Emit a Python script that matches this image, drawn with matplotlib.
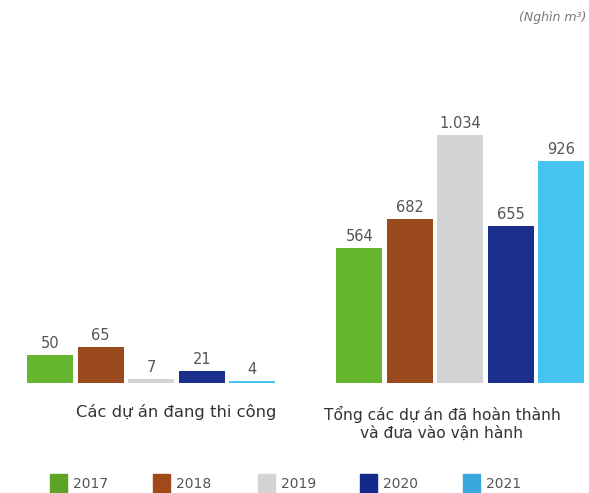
import matplotlib
matplotlib.use("Agg")
import matplotlib.pyplot as plt
from matplotlib.patches import Rectangle

years = ["2017", "2018", "2019", "2020", "2021"]
colors = ["#66b52e", "#9b4a1d", "#d3d3d5", "#1b2f8c", "#45c4f0"]
legend_colors = ["#5ea424", "#a04a1c", "#d4d4d4", "#132a8a", "#3aa8dc"]

under_construction = [50, 65, 7, 21, 4]
completed = [564, 682, 1034, 655, 926]
value_labels_left = ["50", "65", "7", "21", "4"]
value_labels_right = ["564", "682", "1.034", "655", "926"]
group_labels = ["Các dự án đang thi công",
                "Tổng các dự án đã hoàn thành\nvà đưa vào vận hành"]

plt.rcParams["font.family"] = ["DejaVu Sans"]

W, H = 589, 493
fig = plt.figure(figsize=(W / 100, H / 100), dpi=100)
fig.patch.set_facecolor("white")

base_y = 383
top_y = 100
bar_step = 50.5

def make_axes(left_px, ymax, values, labels):
    width_px = 4.92 * bar_step
    ax = fig.add_axes([left_px / W, (H - base_y) / H, width_px / W, (base_y - top_y) / H])
    ax.set_xlim(-0.46, 4.46)
    ax.set_ylim(0, ymax)
    x = range(len(values))
    ax.bar(x, values, width=0.91, color=colors)
    for xi, v, lab in zip(x, values, labels):
        ax.annotate(lab, (xi, v), xytext=(0, 3), textcoords="offset points",
                    ha="center", va="bottom", fontsize=10.5, color="#555555")
    ax.axis("off")
    return ax

make_axes(27, 510, under_construction, value_labels_left)
make_axes(336, 1180, completed, value_labels_right)

fig.text(176 / W, 1 - 412 / H, group_labels[0], ha="center", va="center",
         fontsize=11.8, color="#333333")
fig.text(442 / W, 1 - 423.5 / H, group_labels[1], ha="center", va="center",
         fontsize=11.2, color="#333333", linespacing=1.25)

fig.text(586 / W, 1 - 18 / H, "(Nghìn m³)", ha="right", va="center",
         fontsize=9, color="#777777", style="italic")

# legend row
legend_x = [50, 153, 258, 360, 463]
for lx, c, y in zip(legend_x, legend_colors, years):
    fig.patches.append(Rectangle((lx / W, 1 - 493 / H), 17 / W, 19 / H,
                                 transform=fig.transFigure, color=c))
    fig.text((lx + 23) / W, 1 - 484 / H, y, ha="left", va="center",
             fontsize=10, color="#555555")

fig.savefig("out.png", dpi=100, facecolor="white")
